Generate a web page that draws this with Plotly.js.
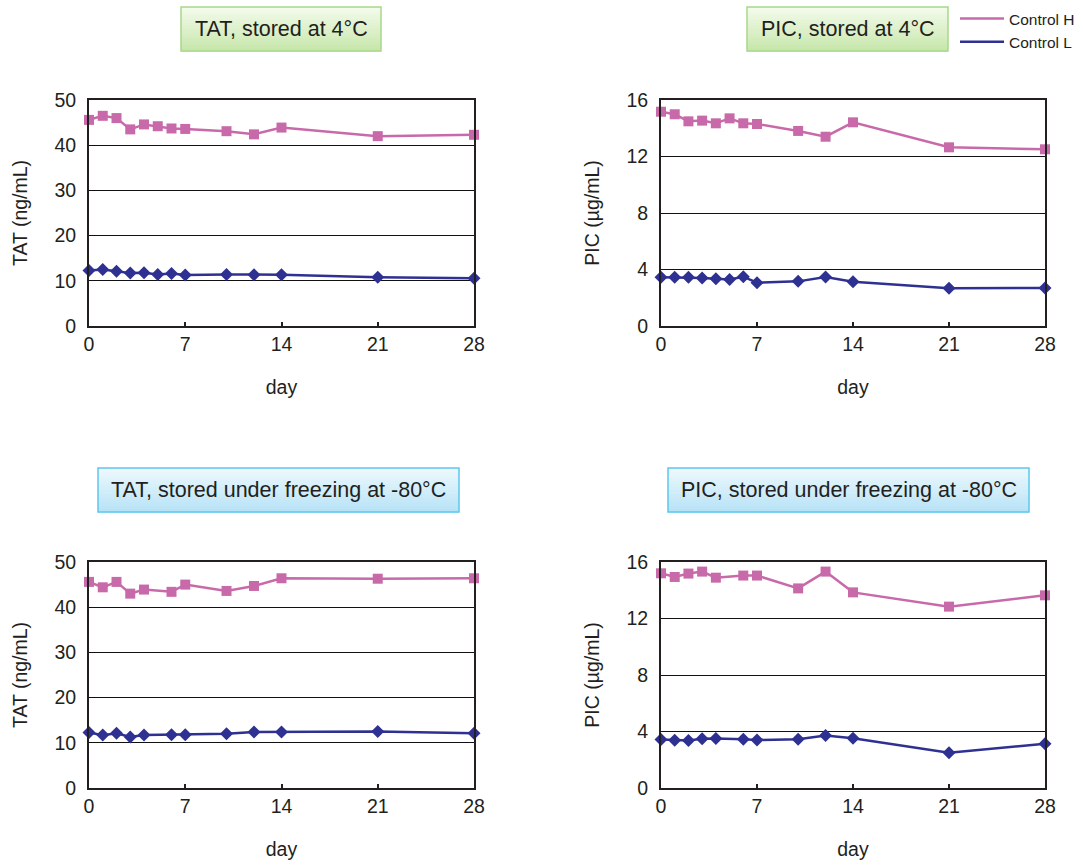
<!DOCTYPE html>
<html>
<head>
<meta charset="utf-8">
<script src="https://cdn.plot.ly/plotly-3.0.1.min.js"></script>
<style>html,body{margin:0;padding:0;background:#fff;}#chart{width:1083px;height:868px;}</style>
</head>
<body>
<div id="chart"></div>
<script>
// ---- data ----
const days4C = [0, 1, 2, 3, 4, 5, 6, 7, 10, 12, 14, 21, 28];
const days80 = [0, 1, 2, 3, 4, 6, 7, 10, 12, 14, 21, 28];

const tat4C_H = [45.6, 46.5, 46.0, 43.5, 44.6, 44.2, 43.7, 43.6, 43.1, 42.4, 43.9, 42.0, 42.3];
const tat4C_L = [12.3, 12.5, 12.1, 11.7, 11.8, 11.4, 11.6, 11.3, 11.4, 11.35, 11.35, 10.8, 10.55];

const pic4C_H = [15.17, 14.99, 14.49, 14.54, 14.35, 14.70, 14.35, 14.30, 13.81, 13.40, 14.42, 12.65, 12.51];
const pic4C_L = [3.45, 3.45, 3.45, 3.40, 3.35, 3.30, 3.49, 3.07, 3.16, 3.47, 3.14, 2.67, 2.69];

const tat80_H = [45.6, 44.4, 45.6, 43.0, 43.9, 43.4, 45.0, 43.6, 44.7, 46.4, 46.3, 46.4];
const tat80_L = [12.3, 11.7, 12.1, 11.3, 11.7, 11.8, 11.8, 12.0, 12.4, 12.4, 12.5, 12.1];

const pic80_H = [15.2, 14.94, 15.18, 15.32, 14.89, 15.04, 15.04, 14.13, 15.32, 13.85, 12.84, 13.64];
const pic80_L = [3.43, 3.38, 3.36, 3.48, 3.50, 3.45, 3.40, 3.45, 3.71, 3.52, 2.50, 3.14];

const seriesNames = ['Control H', 'Control L'];
const panelTitles = ['TAT, stored at 4°C', 'PIC, stored at 4°C',
                     'TAT, stored under freezing at -80°C', 'PIC, stored under freezing at -80°C'];
const yTitles = ['TAT (ng/mL)', 'PIC (µg/mL)'];
const xTitle = 'day';
const xTicks = [0, 7, 14, 21, 28];

// ---- styling ----
const W = 1083, H = 868;
const colH = '#c86aa9', colL = '#2e3192';
const FONT = 'Liberation Sans, Arial, sans-serif';
const txt = '#231f20';

const px = v => v / W;
const py = v => 1 - v / H;

const panels = [
  {xa: 'x',  ya: 'y',  xs: 'xaxis',  ys: 'yaxis',  x: days4C, h: tat4C_H, l: tat4C_L, dom: [89, 474, 100, 326], yr: [0, 50], dt: 10, yt: yTitles[0]},
  {xa: 'x2', ya: 'y2', xs: 'xaxis2', ys: 'yaxis2', x: days4C, h: pic4C_H, l: pic4C_L, dom: [661, 1045, 100, 326], yr: [0, 16], dt: 4, yt: yTitles[1]},
  {xa: 'x3', ya: 'y3', xs: 'xaxis3', ys: 'yaxis3', x: days80, h: tat80_H, l: tat80_L, dom: [89, 474, 562, 788], yr: [0, 50], dt: 10, yt: yTitles[0]},
  {xa: 'x4', ya: 'y4', xs: 'xaxis4', ys: 'yaxis4', x: days80, h: pic80_H, l: pic80_L, dom: [661, 1045, 562, 788], yr: [0, 16], dt: 4, yt: yTitles[1]}
];

const traces = [];
const layout = {
  width: W, height: H,
  margin: {l: 0, r: 0, t: 0, b: 0},
  paper_bgcolor: '#fff', plot_bgcolor: 'rgba(0,0,0,0)',
  font: {family: FONT, color: txt, size: 19},
  showlegend: true,
  legend: {x: px(955), y: py(2), xanchor: 'left', yanchor: 'top',
           font: {family: FONT, size: 15.5, color: txt}, bgcolor: 'rgba(0,0,0,0)',
           tracegroupgap: 0, itemwidth: 44},
  shapes: [], annotations: []
};

panels.forEach((p, i) => {
  traces.push({x: p.x, y: p.h, xaxis: p.xa, yaxis: p.ya, mode: 'lines+markers', name: seriesNames[0],
    line: {color: colH, width: 2.5}, marker: {symbol: 'square', size: 10, color: colH},
    showlegend: false, cliponaxis: false});
  traces.push({x: p.x, y: p.l, xaxis: p.xa, yaxis: p.ya, mode: 'lines+markers', name: seriesNames[1],
    line: {color: colL, width: 2.5}, marker: {symbol: 'diamond', size: 10, color: colL},
    showlegend: false, cliponaxis: false});
  layout[p.xs] = {
    domain: [px(p.dom[0]), px(p.dom[1])], range: [0, 28], anchor: p.ya,
    tickvals: xTicks, ticks: 'inside', ticklen: 4, tickwidth: 2, tickcolor: txt,
    showgrid: false, zeroline: false, showline: true, mirror: true, linecolor: txt, linewidth: 2,
    tickfont: {size: 19.5, family: FONT, color: txt},
    title: {text: xTitle, font: {size: 19.5, family: FONT, color: txt}, standoff: 26}
  };
  layout[p.ys] = {
    domain: [py(p.dom[3]), py(p.dom[2])], range: p.yr, dtick: p.dt, anchor: p.xa,
    ticks: '', showgrid: true, gridcolor: '#111', gridwidth: 1, zeroline: false,
    showline: true, mirror: true, linecolor: txt, linewidth: 2,
    tickfont: {size: 19.5, family: FONT, color: txt}, ticklabelstandoff: 7,
    title: {text: p.yt, font: {size: 19.5, family: FONT, color: txt}, standoff: 22}
  };
});

// legend-only entries (line samples)
traces.push({x: [null], y: [null], mode: 'lines', name: seriesNames[0], line: {color: colH, width: 2.5}, showlegend: true, hoverinfo: 'skip'});
traces.push({x: [null], y: [null], mode: 'lines', name: seriesNames[1], line: {color: colL, width: 2.5}, showlegend: true, hoverinfo: 'skip'});

// title boxes with vertical gradient
const boxes = [
  {b: [181, 381, 7, 51], top: [242, 250, 234], bot: [200, 231, 172], border: '#a9d88b', t: panelTitles[0]},
  {b: [747, 948, 7, 51], top: [242, 250, 234], bot: [200, 231, 172], border: '#a9d88b', t: panelTitles[1]},
  {b: [98, 459, 468, 512], top: [236, 248, 253], bot: [184, 227, 246], border: '#5cc8ee', t: panelTitles[2]},
  {b: [668, 1029, 468, 512], top: [236, 248, 253], bot: [184, 227, 246], border: '#5cc8ee', t: panelTitles[3]}
];
const N = 14;
boxes.forEach(bx => {
  const [x0, x1, y0, y1] = bx.b;
  for (let k = 0; k < N; k++) {
    const f = k / (N - 1);
    const c = bx.top.map((v, j) => Math.round(v + (bx.bot[j] - v) * f));
    const ya = y0 + (y1 - y0) * k / N, yb = y0 + (y1 - y0) * (k + 1) / N + 0.5;
    layout.shapes.push({type: 'rect', xref: 'paper', yref: 'paper', layer: 'below',
      x0: px(x0), x1: px(x1), y0: py(yb), y1: py(ya),
      fillcolor: `rgb(${c[0]},${c[1]},${c[2]})`, line: {width: 0}});
  }
  layout.shapes.push({type: 'rect', xref: 'paper', yref: 'paper', layer: 'below',
    x0: px(x0), x1: px(x1), y0: py(y1), y1: py(y0),
    fillcolor: 'rgba(0,0,0,0)', line: {color: bx.border, width: 1.5}});
  layout.annotations.push({xref: 'paper', yref: 'paper', x: px((x0 + x1) / 2), y: py((y0 + y1) / 2),
    xanchor: 'center', yanchor: 'middle', showarrow: false, text: bx.t,
    font: {family: FONT, size: 21.5, color: txt}});
});

Plotly.newPlot('chart', traces, layout, {staticPlot: true, displayModeBar: false});
</script>
</body>
</html>
